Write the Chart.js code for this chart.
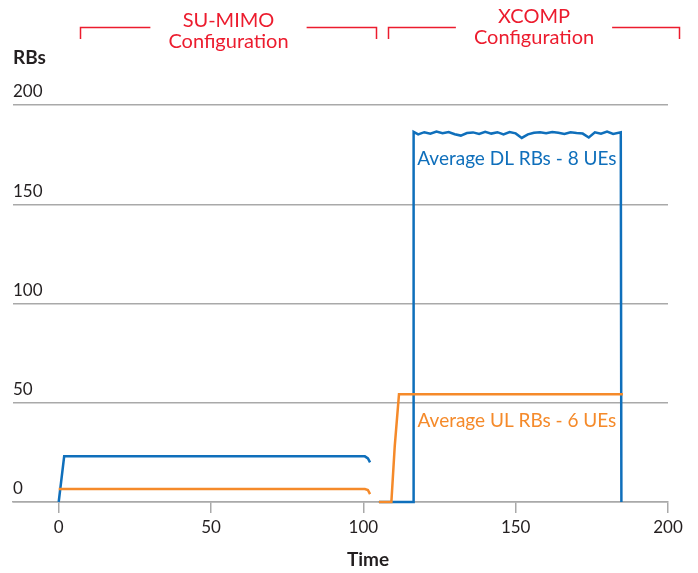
<!DOCTYPE html>
<html>
<head>
<meta charset="utf-8">
<script src="https://cdn.jsdelivr.net/npm/chart.js"></script>
<style>
  html, body { margin: 0; padding: 0; background: #fff; }
  #wrap { width: 698px; height: 573px; position: relative; }
</style>
</head>
<body>
<div id="wrap"><canvas id="rbChart"></canvas></div>
<script>
// --- data ---
const dlTime = [0, 1.8, 50, 100.5, 101.5, 102.2, 103,
  105.1, 116.3,
  116.5, 118, 120, 122, 124, 126, 128, 130, 132, 134, 136, 138, 140, 142, 144, 146,
  148, 150, 152, 154, 156, 158, 160, 162, 164, 166, 168, 170, 172, 174, 176, 178,
  180, 182, 184.5, 184.7];
const dlRBs = [0, 23, 23, 23, 22, 20, null,
  0, 0,
  186.5, 185.2, 186.3, 185.5, 186.6, 185.8, 186.4, 185.3, 184.6, 185.9, 186.2, 185.4, 186.5, 185.6, 186.3, 185.2,
  186.4, 185.7, 183.4, 185.2, 186.0, 186.3, 185.8, 186.4, 186.0, 185.4, 186.3, 185.9, 185.6, 183.6, 186.2, 185.5,
  186.6, 185.4, 186.2, 0];

const ulTime = [0, 50, 100.5, 101.5, 102.2, 103, 105.1, 109.2, 110.3, 111.7, 150, 185.2];
const ulRBs = [6.5, 6.5, 6.5, 6, 4, null, 0, 0, 28, 54.3, 54.3, 54.3];

const xTicks = [0, 50, 100, 150, 200];
const yTicks = [0, 50, 100, 150, 200];

// configuration brackets on top: [from, to] in time units
const configNames = [['SU-MIMO', 'Configuration'], ['XCOMP', 'Configuration']];
const configRanges = [[6.9, 104.1], [108.1, 203.5]];

const DL_COLOR = '#0f6fbb';
const UL_COLOR = '#f58a2a';
const RED = '#ec1c2e';
const GRID = '#a9a9a9';
const TXT = '#231f20';
const FONT = 'Lato, "Open Sans", sans-serif';

function toPoints(xs, ys) {
  return xs.map((x, i) => ({ x: x, y: ys[i] }));
}

// 注記・ブラケット描画
const decorPlugin = {
  id: 'decor',
  afterDraw(chart) {
    const ctx = chart.ctx;
    const xs = chart.scales.x;
    const ys = chart.scales.y;
    ctx.save();

    // axis titles
    ctx.fillStyle = TXT;
    ctx.font = 'bold 19px ' + FONT;
    ctx.textAlign = 'left';
    ctx.textBaseline = 'middle';
    ctx.fillText('RBs', 13, 58);
    ctx.textAlign = 'center';
    ctx.fillText('Time', 368, 560);

    // red brackets + titles
    ctx.font = '20px ' + FONT;
    ctx.strokeStyle = RED;
    ctx.fillStyle = RED;
    ctx.lineWidth = 1.5;
    const lineY = [[21, 42], [16.5, 38]];
    configRanges.forEach((r, i) => {
      const x0 = Math.round(xs.getPixelForValue(r[0])) + 0.5;
      const x1 = Math.round(xs.getPixelForValue(r[1])) + 0.5;
      const cx = (x0 + x1) / 2;
      const half = ctx.measureText(configNames[i][1]).width / 2 + 18;
      ctx.beginPath();
      ctx.moveTo(x0, 39); ctx.lineTo(x0, 27.5); ctx.lineTo(cx - half, 27.5);
      ctx.moveTo(cx + half, 27.5); ctx.lineTo(x1, 27.5); ctx.lineTo(x1, 39);
      ctx.stroke();
      ctx.fillText(configNames[i][0], cx, lineY[i][0]);
      ctx.fillText(configNames[i][1], cx, lineY[i][1]);
    });

    // inline series labels
    ctx.font = '19px ' + FONT;
    ctx.fillStyle = DL_COLOR;
    ctx.fillText('Average DL RBs - 8 UEs', xs.getPixelForValue(150.4), ys.getPixelForValue(172.8));
    ctx.fillStyle = UL_COLOR;
    ctx.fillText('Average UL RBs - 6 UEs', xs.getPixelForValue(150.4), ys.getPixelForValue(41));

    ctx.restore();
  }
};

new Chart(document.getElementById('rbChart'), {
  type: 'line',
  data: {
    datasets: [
      {
        label: 'Average UL RBs - 6 UEs',
        data: toPoints(ulTime, ulRBs),
        borderColor: UL_COLOR,
        borderWidth: 2.5,
        pointRadius: 0,
        tension: 0,
        spanGaps: false,
        clip: false,
        order: 0
      },
      {
        label: 'Average DL RBs - 8 UEs',
        data: toPoints(dlTime, dlRBs),
        borderColor: DL_COLOR,
        borderWidth: 2.5,
        pointRadius: 0,
        tension: 0,
        spanGaps: false,
        clip: false,
        order: 1
      }
    ]
  },
  options: {
    responsive: true,
    maintainAspectRatio: false,
    animation: false,
    layout: { padding: { left: 13, right: 30, top: 105, bottom: 0 } },
    plugins: {
      legend: { display: false },
      tooltip: { enabled: false }
    },
    scales: {
      x: {
        type: 'linear',
        min: -15,
        max: 200,
        afterBuildTicks: s => { s.ticks = xTicks.map(v => ({ value: v })); },
        afterFit: s => { s.height = 71; },
        grid: { drawOnChartArea: false, drawTicks: true, tickLength: 11, color: GRID, lineWidth: 1.5 },
        border: { display: true, color: GRID, width: 1.5 },
        ticks: { color: TXT, font: { family: FONT, size: 17 }, padding: 4, maxRotation: 0 },
        title: { display: false, text: 'Time' }
      },
      y: {
        min: 0,
        max: 200,
        afterBuildTicks: s => { s.ticks = yTicks.map(v => ({ value: v })); },
        afterFit: s => { s.width = 0; },
        grid: { drawTicks: false, color: GRID, lineWidth: 1.5 },
        border: { display: false },
        ticks: { mirror: true, padding: 0, labelOffset: -13, color: TXT, font: { family: FONT, size: 17 } }
      }
    }
  },
  plugins: [decorPlugin]
});
</script>
</body>
</html>
